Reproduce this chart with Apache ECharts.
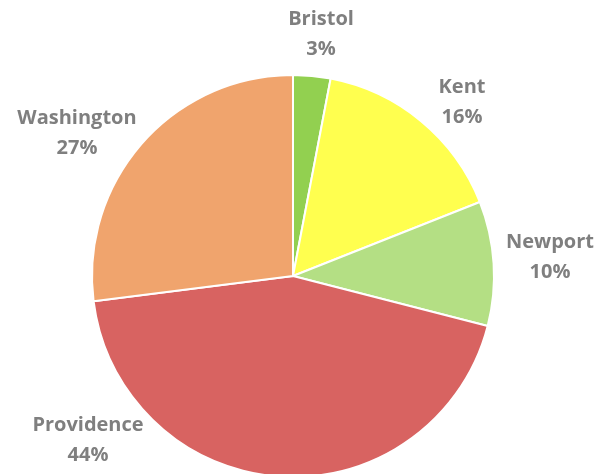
<!DOCTYPE html>
<html>
<head>
<meta charset="utf-8">
<script src="https://cdn.jsdelivr.net/npm/echarts@6/dist/echarts.min.js"></script>
<style>
  html, body { margin: 0; padding: 0; background: #fff; }
  #chart { width: 600px; height: 474px; }
</style>
</head>
<body>
<div id="chart"></div>
<script>
// county shares (percent)
const counties = ['Bristol', 'Kent', 'Newport', 'Providence', 'Washington']
const shares = [3, 16, 10, 44, 27]
const colors = ['#92D050', '#FFFF4F', '#B4DF84', '#D86361', '#F0A46D']

// where each label sits (layout only, centre of the two-line label)
const labelPos = [[321, 34], [462, 102], [550, 257], [88, 440], [77, 133]]

const chart = echarts.init(document.getElementById('chart'))

const option = {
  animation: false,
  color: colors,
  series: [
    {
      type: 'pie',
      center: [293, 276],
      radius: 201,
      startAngle: 90,
      clockwise: true,
      avoidLabelOverlap: false,
      data: counties.map((name, i) => ({ name: name, value: shares[i] })),
      itemStyle: {
        borderColor: '#fff',
        borderWidth: 2
      },
      label: {
        show: true,
        position: 'outside',
        formatter: '{b}\n{d}%',
        color: '#7F7F7F',
        fontFamily: 'Open Sans',
        fontWeight: 'bold',
        fontSize: 20,
        lineHeight: 30,
        align: 'center'
      },
      labelLine: { show: false },
      labelLayout: function (params) {
        const p = labelPos[params.dataIndex]
        return {
          x: p[0],
          y: p[1],
          align: 'center',
          verticalAlign: 'middle'
        }
      }
    }
  ]
}
chart.setOption(option)
</script>
</body>
</html>
